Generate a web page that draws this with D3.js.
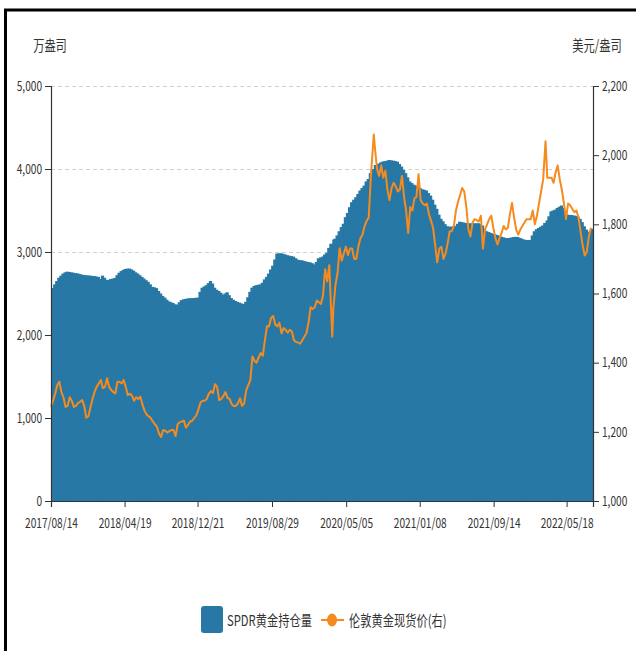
<!DOCTYPE html>
<html><head><meta charset="utf-8">
<script src="https://cdn.jsdelivr.net/npm/d3@7"></script>
<style>
html,body{margin:0;padding:0;background:#fff;}
svg{display:block;}
text{font-family:"Noto Sans CJK SC","Liberation Sans",sans-serif;fill:#333;}
</style></head>
<body>
<svg id="chart" width="636" height="651"></svg>
<script>
const dates = [
"2017-08-14","2017-08-21","2017-08-28","2017-09-04","2017-09-11","2017-09-18","2017-09-25","2017-10-02","2017-10-09","2017-10-16",
"2017-10-23","2017-10-30","2017-11-06","2017-11-13","2017-11-20","2017-11-27","2017-12-04","2017-12-11","2017-12-18","2017-12-25",
"2018-01-01","2018-01-08","2018-01-15","2018-01-22","2018-01-29","2018-02-05","2018-02-12","2018-02-19","2018-02-26","2018-03-05",
"2018-03-12","2018-03-19","2018-03-26","2018-04-02","2018-04-09","2018-04-16","2018-04-23","2018-04-30","2018-05-07","2018-05-14",
"2018-05-21","2018-05-28","2018-06-04","2018-06-11","2018-06-18","2018-06-25","2018-07-02","2018-07-09","2018-07-16","2018-07-23",
"2018-07-30","2018-08-06","2018-08-13","2018-08-20","2018-08-27","2018-09-03","2018-09-10","2018-09-17","2018-09-24","2018-10-01",
"2018-10-08","2018-10-15","2018-10-22","2018-10-29","2018-11-05","2018-11-12","2018-11-19","2018-11-26","2018-12-03","2018-12-10",
"2018-12-17","2018-12-24","2018-12-31",
"2019-01-07","2019-01-14","2019-01-21","2019-01-28","2019-02-04","2019-02-11","2019-02-18","2019-02-25","2019-03-04","2019-03-11",
"2019-03-18","2019-03-25","2019-04-01","2019-04-08","2019-04-15","2019-04-22","2019-04-29","2019-05-06","2019-05-13","2019-05-20",
"2019-05-27","2019-06-03","2019-06-10","2019-06-17","2019-06-24","2019-07-01","2019-07-08","2019-07-15","2019-07-22","2019-07-29",
"2019-08-05","2019-08-12","2019-08-19","2019-08-26","2019-09-02","2019-09-09","2019-09-16","2019-09-23","2019-09-30","2019-10-07",
"2019-10-14","2019-10-21","2019-10-28","2019-11-04","2019-11-11","2019-11-18","2019-11-25","2019-12-02","2019-12-09","2019-12-16",
"2019-12-23","2019-12-30",
"2020-01-06","2020-01-13","2020-01-20","2020-01-27","2020-02-03","2020-02-10","2020-02-17","2020-02-24","2020-03-02","2020-03-09",
"2020-03-19","2020-03-23","2020-03-30","2020-04-06","2020-04-13","2020-04-20","2020-04-27","2020-05-04","2020-05-11","2020-05-18",
"2020-05-25","2020-06-01","2020-06-08","2020-06-15","2020-06-22","2020-06-29","2020-07-06","2020-07-13","2020-07-20","2020-07-27",
"2020-08-06","2020-08-10","2020-08-17","2020-08-24","2020-08-31","2020-09-07","2020-09-14","2020-09-21","2020-09-28","2020-10-05",
"2020-10-12","2020-10-19","2020-10-26","2020-11-02","2020-11-09","2020-11-16","2020-11-23","2020-11-30","2020-12-07","2020-12-14",
"2020-12-21","2020-12-28",
"2021-01-04","2021-01-11","2021-01-18","2021-01-25","2021-02-01","2021-02-08","2021-02-15","2021-02-22","2021-03-01","2021-03-08",
"2021-03-15","2021-03-22","2021-03-29","2021-04-05","2021-04-12","2021-04-19","2021-04-26","2021-05-03","2021-05-10","2021-05-17",
"2021-05-24","2021-05-31","2021-06-07","2021-06-14","2021-06-21","2021-06-28","2021-07-05","2021-07-12","2021-07-19","2021-07-26",
"2021-08-02","2021-08-09","2021-08-16","2021-08-23","2021-08-30","2021-09-06","2021-09-13","2021-09-20","2021-09-27","2021-10-04",
"2021-10-11","2021-10-18","2021-10-25","2021-11-01","2021-11-08","2021-11-15","2021-11-22","2021-11-29","2021-12-06","2021-12-13",
"2021-12-20","2021-12-27",
"2022-01-03","2022-01-10","2022-01-17","2022-01-24","2022-01-31","2022-02-07","2022-02-14","2022-02-21","2022-02-28","2022-03-08",
"2022-03-14","2022-03-21","2022-03-28","2022-04-04","2022-04-11","2022-04-18","2022-04-25","2022-05-02","2022-05-09","2022-05-16",
"2022-05-23","2022-05-30","2022-06-06","2022-06-13","2022-06-20","2022-06-27","2022-07-04","2022-07-11","2022-07-18","2022-07-25",
"2022-08-01","2022-08-08"];

// SPDR gold holdings (万盎司)
const holdings = [
2566,2610,2650,2690,2715,2740,2755,2763,2760,2755,
2750,2745,2743,2735,2728,2723,2720,2718,2715,2712,
2710,2705,2700,2675,2715,2690,2663,2665,2675,2680,
2687,2720,2750,2770,2785,2795,2800,2800,2790,2775,
2755,2740,2720,2700,2680,2660,2640,2610,2580,2575,
2565,2530,2500,2470,2450,2425,2405,2395,2385,2370,
2365,2395,2420,2430,2435,2440,2443,2444,2446,2448,
2450,2520,2570,
2585,2600,2625,2650,2620,2570,2545,2530,2510,2485,
2500,2515,2480,2445,2425,2410,2400,2390,2380,2372,
2400,2455,2520,2570,2590,2600,2605,2610,2630,2670,
2700,2740,2790,2835,2910,2980,2985,2985,2978,2970,
2962,2955,2950,2944,2925,2908,2902,2900,2893,2885,
2880,2875,
2865,2850,2880,2924,2935,2945,2970,2990,3050,3100,
3150,3160,3200,3250,3300,3340,3420,3470,3540,3600,
3630,3660,3700,3740,3770,3800,3850,3880,3950,4000,
4048,4048,4065,4080,4090,4095,4100,4108,4105,4100,
4095,4088,4060,4030,3990,3950,3900,3850,3830,3810,
3800,3790,
3770,3755,3750,3740,3710,3680,3630,3570,3520,3450,
3400,3370,3335,3310,3305,3305,3310,3315,3340,3365,
3360,3355,3350,3346,3346,3346,3346,3346,3346,3340,
3320,3270,3250,3240,3230,3220,3212,3205,3195,3185,
3178,3170,3168,3170,3175,3180,3183,3180,3170,3160,
3150,3145,
3145,3145,3200,3250,3275,3290,3305,3320,3350,3380,
3430,3490,3500,3510,3530,3545,3560,3530,3480,3450,
3446,3446,3440,3435,3425,3400,3360,3310,3270,3245,
3255,3280];

// London spot gold (美元/盎司)
const goldPrice = [
1273,1290,1310,1335,1345,1315,1300,1272,1275,1300,
1290,1272,1275,1283,1287,1292,1275,1241,1245,1270,
1295,1316,1330,1340,1350,1326,1330,1355,1330,1321,
1315,1311,1345,1345,1340,1350,1330,1306,1310,1305,
1290,1300,1295,1302,1280,1262,1250,1245,1240,1230,
1222,1215,1195,1185,1205,1203,1198,1202,1205,1205,
1188,1222,1228,1230,1232,1212,1220,1230,1232,1240,
1248,1265,1285,
1290,1290,1295,1310,1318,1312,1338,1330,1292,1295,
1304,1315,1298,1295,1280,1275,1275,1282,1297,1275,
1282,1320,1335,1350,1418,1405,1400,1415,1428,1420,
1465,1505,1505,1530,1535,1510,1505,1515,1485,1500,
1495,1487,1495,1490,1465,1460,1458,1455,1465,1475,
1485,1515,
1560,1555,1560,1580,1575,1570,1595,1670,1635,1682,
1475,1560,1625,1660,1731,1695,1715,1735,1711,1730,
1730,1700,1700,1735,1760,1770,1795,1810,1820,1935,
2060,2020,1960,1940,1970,1935,1955,1900,1870,1905,
1920,1910,1895,1900,1940,1880,1840,1775,1850,1840,
1875,1880,
1945,1870,1860,1855,1860,1830,1810,1790,1740,1690,
1730,1735,1700,1715,1745,1780,1780,1795,1840,1865,
1885,1905,1895,1850,1785,1765,1805,1815,1812,1808,
1825,1730,1785,1800,1815,1825,1790,1760,1742,1760,
1775,1795,1785,1790,1830,1862,1820,1785,1770,1785,
1795,1805,
1815,1815,1815,1840,1800,1825,1860,1895,1930,2040,
1935,1935,1935,1920,1950,1970,1930,1900,1860,1815,
1860,1855,1845,1835,1840,1820,1780,1740,1710,1720,
1765,1790];

const xTickLabels = ["2017/08/14","2018/04/19","2018/12/21","2019/08/29","2020/05/05","2021/01/08","2021/09/14","2022/05/18"];
const leftTicks = [0,1000,2000,3000,4000,5000];
const rightTicks = [1000,1200,1400,1600,1800,2000,2200];
const domainEnd = "2022-08-15";
const seriesNames = ["SPDR黄金持仓量","伦敦黄金现货价(右)"];
const unitLeft = "万盎司", unitRight = "美元/盎司";

const BLUE = "#2878a6", ORANGE = "#f58b1f";
const SX = 0.75; // horizontal squeeze of text as in reference
const parse = d3.timeParse("%Y-%m-%d");
const parseTick = d3.timeParse("%Y/%m/%d");
const data = dates.map((d,i)=>({date:parse(d), h:holdings[i], g:goldPrice[i]}));

const svg = d3.select("#chart");
const L = 51, R = 593, T = 86, B = 501;

// frame
svg.append("path").attr("d","M5.5,651 V10 H636").attr("fill","none").attr("stroke","#000").attr("stroke-width",3);

const x = d3.scaleTime().domain([parse(dates[0]), parse(domainEnd)]).range([L,R]);
const yL = d3.scaleLinear().domain([0,5000]).range([B,T]);
const yR = d3.scaleLinear().domain([1000,2200]).range([B,T]);

// grid
svg.append("g").selectAll("line").data(leftTicks.filter(v=>v>0)).join("line")
  .attr("x1",L).attr("x2",R).attr("y1",d=>yL(d)+0.5).attr("y2",d=>yL(d)+0.5)
  .attr("stroke","#d0d0d0").attr("stroke-dasharray","4,3");

// bars
svg.append("g").selectAll("rect").data(data).join("rect")
  .attr("x",d=>x(d.date))
  .attr("width",(d,i)=> (i<data.length-1 ? x(data[i+1].date) + 1.2 : x(parse(domainEnd))) - x(d.date))
  .attr("y",d=>yL(d.h)).attr("height",d=>B-yL(d.h))
  .attr("fill",BLUE);

// gold line
svg.append("path").datum(data)
  .attr("fill","none").attr("stroke",ORANGE).attr("stroke-width",2).attr("stroke-linejoin","round")
  .attr("d", d3.line().x(d=>x(d.date)).y(d=>yR(d.g)));

function squeeze(g){
  g.selectAll("text").each(function(){
    const t = d3.select(this);
    const xv = +t.attr("x") || 0;
    t.attr("x", xv/SX).attr("transform",`scale(${SX},1)`);
  });
}
const fmt = d3.format(",");
const axL = svg.append("g").attr("transform",`translate(${L},0)`)
  .call(d3.axisLeft(yL).tickValues(leftTicks).tickFormat(fmt).tickSize(6).tickPadding(3));
const axR = svg.append("g").attr("transform",`translate(${R},0)`)
  .call(d3.axisRight(yR).tickValues(rightTicks).tickFormat(fmt).tickSize(6).tickPadding(3));
const axB = svg.append("g").attr("transform",`translate(0,${B})`)
  .call(d3.axisBottom(x).tickValues(xTickLabels.map(parseTick)).tickFormat(d3.timeFormat("%Y/%m/%d")).tickSize(6).tickPadding(11));
[axL,axR,axB].forEach(g=>{
  g.select(".domain").attr("stroke","#333").attr("stroke-width",1.2);
  g.selectAll(".tick line").attr("stroke","#333");
  g.selectAll("text").attr("fill","#333").style("font-size","13.5px").style("font-family","'Noto Sans CJK SC',sans-serif");
  squeeze(g);
});

// units
svg.append("text").attr("transform",`translate(50,51) scale(${SX},1)`).attr("text-anchor","middle")
  .style("font-size","15px").text(unitLeft);
svg.append("text").attr("transform",`translate(597,51) scale(${SX},1)`).attr("text-anchor","middle")
  .style("font-size","15px").text(unitRight);

// legend
const lg = svg.append("g");
lg.append("rect").attr("x",201).attr("y",606).attr("width",22).attr("height",27).attr("rx",3).attr("fill",BLUE);
lg.append("text").attr("transform",`translate(227,626) scale(${SX},1)`).style("font-size","15px").text(seriesNames[0]);
lg.append("line").attr("x1",321).attr("x2",344).attr("y1",620).attr("y2",620).attr("stroke",ORANGE).attr("stroke-width",2);
lg.append("ellipse").attr("cx",332).attr("cy",620).attr("rx",5).attr("ry",6.5).attr("fill",ORANGE);
lg.append("text").attr("transform",`translate(349,626) scale(${SX},1)`).style("font-size","15px").text(seriesNames[1]);
</script>
</body></html>
